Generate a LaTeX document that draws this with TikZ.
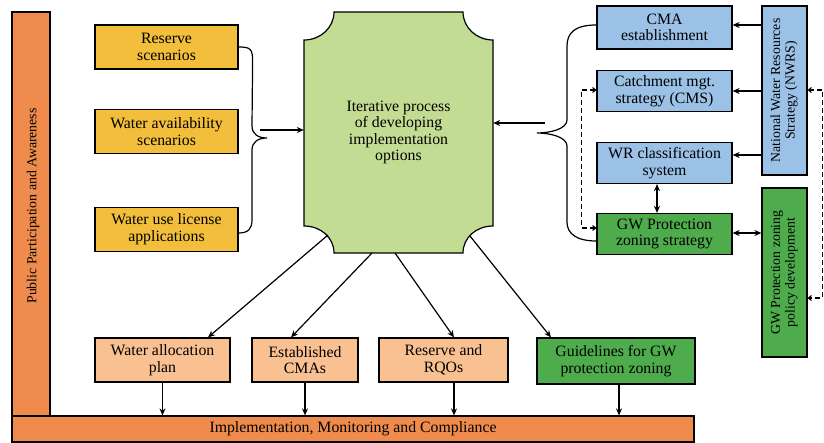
\documentclass[tikz,border=0pt]{standalone}
\usepackage{fontspec}
\usepackage{graphicx}
\setmainfont{Liberation Serif}
\usetikzlibrary{arrows.meta}

\definecolor{barorange}{RGB}{239,139,76}
\definecolor{scenyellow}{RGB}{242,190,60}
\definecolor{itergreen}{RGB}{195,220,148}
\definecolor{stratblue}{RGB}{155,194,230}
\definecolor{gwgreen}{RGB}{78,172,76}
\definecolor{outpeach}{RGB}{249,193,145}

\newcommand{\uprot}[1]{\rotatebox{90}{\begin{tabular}{@{}c@{}}#1\end{tabular}}}

\tikzset{
  box/.style={draw, line width=1.2pt, inner sep=0pt, align=center},
  arr/.style={-{Stealth[length=7pt,width=6pt]}, line width=1.2pt},
  twoarr/.style={{Stealth[length=7pt,width=6pt]}-{Stealth[length=7pt,width=6pt]}, line width=1.2pt},
  dasharr/.style={{Straight Barb[length=3pt,width=5pt]}-{Straight Barb[length=3pt,width=5pt]}, dash pattern=on 5pt off 3pt, line width=1.1pt},
  bracepath/.style={line width=1.2pt},
  sidefont/.style={font=\fontsize{13.8}{14.5}\selectfont}
}

\begin{document}
\begin{tikzpicture}[x=1pt, y=-1pt, font=\fontsize{15.8}{16.6}\selectfont]
\useasboundingbox (0,0) rectangle (824,443);

% side and bottom bars
\node[box, fill=barorange, minimum width=38, minimum height=404] (pub) at (31,214) {};
\node[rotate=90, sidefont] (publbl) at (33,206) {Public Participation and Awareness};
\node[box, fill=barorange, minimum width=682, minimum height=26, font=\fontsize{15.8}{16}\selectfont] (imc) at (353,429) {Implementation, Monitoring and Compliance};

% scenario inputs
\begin{scope}[every node/.style={box, fill=scenyellow, minimum width=143, minimum height=44}]
    \node (res) at (166.5,47) {Reserve\\scenarios};
    \node (avail) at (166.5,131.5) {Water availability\\scenarios};
    \node (lic) at (166.5,229.5) {Water use license\\applications};
\end{scope}

% iterative process
\path[draw, line width=1.2pt, fill=itergreen]
    (334,12) -- (463,12) .. controls (463,27.5) and (476.4,40) .. (493,40)
    -- (493,226) .. controls (476.4,226) and (463,237.5) .. (463,253)
    -- (334,253) .. controls (334,237.5) and (320.6,226) .. (304,226)
    -- (304,40) .. controls (320.6,40) and (334,27.5) .. (334,12) -- cycle;
\node[inner sep=0pt, minimum width=189, minimum height=241, align=center] (iter) at (398.5,132.5)
    {Iterative process\\of developing\\implementation\\options};
\coordinate (o1) at (328,235);
\coordinate (o2) at (372,253);
\coordinate (o3) at (395,253);
\coordinate (o4) at (470,236);

% strategies
\begin{scope}[every node/.style={box, fill=stratblue, minimum width=135, minimum height=41}]
    \node[minimum height=43] (cma) at (664.5,27.5) {CMA\\establishment};
    \node (cms) at (664.5,91) {Catchment mgt.\\strategy (CMS)};
    \node (wrc) at (664.5,163) {WR classification\\system};
    \node[fill=gwgreen] (gwz) at (664.5,234) {GW Protection\\zoning strategy};
\end{scope}
\node[box, fill=stratblue, minimum width=45, minimum height=169, sidefont] (nwrs) at (784.5,90.5)
    {\uprot{National Water Resources\\Strategy (NWRS)}};
\node[box, fill=gwgreen, minimum width=45, minimum height=169, sidefont] (pol) at (784.5,272.5)
    {\uprot{GW Protection zoning\\policy development}};

% outputs
\begin{scope}[every node/.style={box, fill=outpeach, minimum height=44}]
    \node[minimum width=135] (alloc) at (162.5,360) {Water allocation\\plan};
    \node[minimum width=106] (cmas) at (305,360) {Established\\CMAs};
    \node[minimum width=129] (rqo) at (443.5,360) {Reserve and\\RQOs};
    \node[fill=gwgreen, minimum width=158, minimum height=46] (guide) at (616,361) {Guidelines for GW\\protection zoning};
\end{scope}

% braces
\draw[bracepath] (res.east) .. controls +(12,0) and +(0,-12) .. ++(14,14)
    -- (252,126) .. controls (252,134) and (258,138) .. (267,138)
    .. controls (258,138) and (252,142) .. (252,150)
    -- (252,220) .. controls (252,229) and (248,233) .. (lic.east |- 0,233);
\draw[arr] (260,130) -- (iter.west |- 0,130);

\draw[bracepath] (cma.west |- 0,25) .. controls (576,25) and (567,32) .. (567,46)
    -- (567,120) .. controls (567,129) and (550,133) .. (537,133)
    .. controls (550,133) and (567,137) .. (567,146)
    -- (567,222) .. controls (567,234) and (577,241) .. (gwz.west |- 0,241);
\draw[arr] (545,123) -- (iter.east |- 0,123);

% links on the right
\draw[arr] (nwrs.west |- 0,25) -- (cma.east |- 0,25);
\draw[arr] (nwrs.west |- cms.east) -- (cms.east);
\draw[arr] (nwrs.west |- 0,155) -- (wrc.east |- 0,155);
\draw[twoarr] ([xshift=-7.5pt]wrc.south) -- ([xshift=-7.5pt]gwz.north);
\draw[twoarr] (gwz.east |- 0,233) -- (pol.west |- 0,233);
\draw[dasharr] (cms.west |- 0,90) -- ++(-15,0) |- (gwz.west |- 0,228);
\draw[dasharr] (nwrs.east |- 0,90) -- ++(15,0) |- (pol.east |- 0,298);

% outputs of the process
\draw[arr] (o1) -- ([xshift=45.5pt]alloc.north);
\draw[arr] (o2) -- ([xshift=-14pt]cmas.north);
\draw[arr] (o3) -- ([xshift=10.5pt]rqo.north);
\draw[arr] (o4) -- ([xshift=-65pt]guide.north);

\draw[arr] (alloc.south) -- (alloc.south |- imc.north);
\draw[arr] (cmas.south) -- (cmas.south |- imc.north);
\draw[arr] ([xshift=10.5pt]rqo.south) -- ([xshift=10.5pt]rqo.south |- imc.north);
\draw[arr] ([xshift=3pt]guide.south) -- ([xshift=3pt]guide.south |- imc.north);

\end{tikzpicture}
\end{document}
